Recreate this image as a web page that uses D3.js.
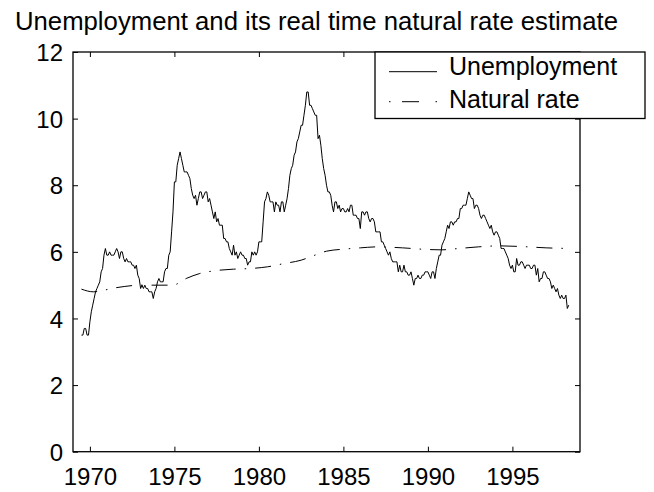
<!DOCTYPE html>
<html>
<head>
<meta charset="utf-8">
<script src="https://cdn.jsdelivr.net/npm/d3@7"></script>
<style>
  html, body { margin: 0; padding: 0; background: #fff; }
  svg { display: block; font-family: "Liberation Sans", Arial, sans-serif; }
</style>
</head>
<body>
<svg id="chart" width="654" height="492"></svg>
<script>
// ---- data ----
const titleText = "Unemployment and its real time natural rate estimate";
const seriesNames = ["Unemployment", "Natural rate"];
const xTicks = [1970, 1975, 1980, 1985, 1990, 1995];
const yTicks = [0, 2, 4, 6, 8, 10, 12];

// monthly unemployment rate, starting July 1969
const unempStart = 1969 + 6 / 12;
const unemployment = [
  3.5, 3.5, 3.7, 3.7, 3.5, 3.5,
  3.9, 4.2, 4.4, 4.6, 4.8, 4.9, 5.0, 5.1, 5.4, 5.5, 5.9, 6.1,
  5.9, 5.9, 6.0, 5.9, 5.9, 5.9, 6.0, 6.1, 6.0, 5.8, 6.0, 6.0,
  5.8, 5.7, 5.8, 5.7, 5.7, 5.7, 5.6, 5.6, 5.5, 5.6, 5.3, 5.2,
  4.9, 5.0, 4.9, 5.0, 4.9, 4.9, 4.8, 4.8, 4.8, 4.6, 4.8, 4.9,
  5.1, 5.2, 5.1, 5.1, 5.1, 5.4, 5.5, 5.5, 5.9, 6.0, 6.6, 7.2,
  8.1, 8.1, 8.6, 8.8, 9.0, 8.8, 8.6, 8.4, 8.4, 8.4, 8.3, 8.2,
  7.9, 7.7, 7.6, 7.7, 7.4, 7.6, 7.8, 7.8, 7.6, 7.7, 7.8, 7.8,
  7.5, 7.6, 7.4, 7.2, 7.0, 7.2, 6.9, 7.0, 6.8, 6.8, 6.8, 6.4,
  6.4, 6.3, 6.3, 6.1, 6.0, 5.9, 6.2, 5.9, 6.0, 5.8, 5.9, 6.0,
  5.9, 5.9, 5.8, 5.8, 5.6, 5.7, 5.7, 6.0, 5.9, 6.0, 5.9, 6.0,
  6.3, 6.3, 6.3, 6.9, 7.5, 7.6, 7.8, 7.7, 7.5, 7.5, 7.5, 7.2,
  7.5, 7.4, 7.4, 7.2, 7.5, 7.5, 7.2, 7.4, 7.6, 7.9, 8.3, 8.5,
  8.6, 8.9, 9.0, 9.3, 9.4, 9.6, 9.8, 9.8, 10.1, 10.4, 10.8, 10.8,
  10.4, 10.4, 10.3, 10.2, 10.1, 10.1, 9.4, 9.5, 9.2, 8.8, 8.5, 8.3,
  8.0, 7.8, 7.8, 7.7, 7.4, 7.2, 7.5, 7.5, 7.3, 7.4, 7.2, 7.3,
  7.3, 7.2, 7.2, 7.3, 7.2, 7.4, 7.4, 7.1, 7.1, 7.1, 7.0, 7.0,
  6.7, 7.2, 7.2, 7.1, 7.2, 7.2, 7.0, 6.9, 7.0, 7.0, 6.9, 6.6,
  6.6, 6.6, 6.6, 6.3, 6.3, 6.2, 6.1, 6.0, 5.9, 6.0, 5.8, 5.7,
  5.7, 5.7, 5.7, 5.4, 5.6, 5.4, 5.4, 5.6, 5.4, 5.4, 5.3, 5.3,
  5.4, 5.2, 5.0, 5.2, 5.2, 5.3, 5.2, 5.2, 5.3, 5.3, 5.4, 5.4,
  5.4, 5.3, 5.2, 5.4, 5.4, 5.2, 5.5, 5.7, 5.9, 5.9, 6.2, 6.3,
  6.4, 6.6, 6.8, 6.7, 6.9, 6.9, 6.8, 6.9, 6.9, 7.0, 7.0, 7.3,
  7.3, 7.4, 7.4, 7.4, 7.6, 7.8, 7.7, 7.6, 7.6, 7.3, 7.4, 7.4,
  7.3, 7.1, 7.0, 7.1, 7.1, 7.0, 6.9, 6.8, 6.7, 6.8, 6.6, 6.5,
  6.6, 6.6, 6.5, 6.4, 6.1, 6.1, 6.1, 6.0, 5.9, 5.8, 5.6, 5.5,
  5.6, 5.4, 5.4, 5.8, 5.6, 5.6, 5.7, 5.7, 5.6, 5.5, 5.6, 5.6,
  5.6, 5.5, 5.5, 5.6, 5.6, 5.3, 5.5, 5.1, 5.2, 5.2, 5.4, 5.4,
  5.3, 5.2, 5.2, 5.1, 4.9, 5.0, 4.9, 4.8, 4.9, 4.7, 4.6, 4.7,
  4.6, 4.6, 4.7, 4.3, 4.4
];

// natural rate estimate
const naturalYears = [1969.5, 1970.2, 1971.5, 1973.0, 1974.9, 1975.7, 1976.5, 1977.2, 1978.5, 1979.5,
  1980.5, 1981.5, 1982.5, 1983.2, 1984.0, 1985.0, 1986.0, 1987.0, 1988.5, 1990.0,
  1990.8, 1991.8, 1993.0, 1994.2, 1995.5, 1997.0, 1998.5];
const naturalRate = [4.88, 4.80, 4.92, 5.00, 5.00, 5.20, 5.35, 5.42, 5.48, 5.50,
  5.55, 5.65, 5.75, 5.88, 6.02, 6.08, 6.12, 6.15, 6.12, 6.07,
  6.06, 6.10, 6.15, 6.18, 6.16, 6.12, 6.10];

// ---- layout ----
const svg = d3.select("#chart");
const L = 73, R = 580, T = 52, B = 451.7;
const x = d3.scaleLinear().domain([1969, 1999]).range([L, R]);
const y = d3.scaleLinear().domain([0, 12]).range([B, T]);

const unempData = unemployment.map((v, i) => ({ t: unempStart + i / 12, v }));
const natData = naturalYears.map((t, i) => ({ t, v: naturalRate[i] }));

// title
svg.append("text")
  .attr("x", 15).attr("y", 30)
  .attr("font-size", 25)
  .attr("textLength", 603)
  .attr("lengthAdjust", "spacingAndGlyphs")
  .text(titleText);

const plot = svg.append("g");

// lines
const line = d3.line().x(d => x(d.t)).y(d => y(d.v));
plot.append("path")
  .datum(unempData)
  .attr("fill", "none").attr("stroke", "#000").attr("stroke-width", 1)
  .attr("d", line);

const natLine = d3.line().x(d => x(d.t)).y(d => y(d.v)).curve(d3.curveMonotoneX);
plot.append("path")
  .datum(natData)
  .attr("fill", "none").attr("stroke", "#000").attr("stroke-width", 1)
  .attr("stroke-dasharray", "16,9,1.5,9")
  .attr("d", natLine);

// axes (MATLAB-style box with inward ticks)
const tickLen = 5;
const axB = d3.axisBottom(x).tickValues(xTicks).tickFormat(d3.format("d")).tickSizeInner(-tickLen).tickSizeOuter(0).tickPadding(12);
const axT = d3.axisTop(x).tickValues(xTicks).tickFormat("").tickSizeInner(-tickLen).tickSizeOuter(0);
const axLft = d3.axisLeft(y).tickValues(yTicks).tickFormat(d3.format("d")).tickSizeInner(-tickLen).tickSizeOuter(0).tickPadding(10);
const axRgt = d3.axisRight(y).tickValues(yTicks).tickFormat("").tickSizeInner(-tickLen).tickSizeOuter(0);

function styleAxis(g) {
  g.select(".domain").remove();
  g.selectAll(".tick line").attr("stroke", "#000").attr("stroke-width", 1);
  g.selectAll("text").attr("font-size", 24).attr("fill", "#000")
    .attr("font-family", "'Liberation Sans', Arial, sans-serif");
}
const gB = svg.append("g").attr("transform", `translate(0,${B})`).call(axB).call(styleAxis);
gB.selectAll("text").attr("dy", null).attr("y", 485 - B).attr("dominant-baseline", "alphabetic");
svg.append("g").attr("transform", `translate(0,${T})`).call(axT).call(styleAxis);
const gL = svg.append("g").attr("transform", `translate(${L},0)`).call(axLft).call(styleAxis);
gL.selectAll("text").attr("dy", "0.36em");
svg.append("g").attr("transform", `translate(${R},0)`).call(axRgt).call(styleAxis);

// frame
svg.append("rect")
  .attr("x", L).attr("y", T).attr("width", R - L).attr("height", B - T)
  .attr("fill", "none").attr("stroke", "#000").attr("stroke-width", 1.3);

// legend
const lg = svg.append("g");
lg.append("rect")
  .attr("x", 375).attr("y", 52).attr("width", 270).attr("height", 66.5)
  .attr("fill", "#fff").attr("stroke", "#000").attr("stroke-width", 1.3);
const legendRows = [
  { name: seriesNames[0], dash: null, ly: 71.7, ty: 75 },
  { name: seriesNames[1], dash: "1.5,11.5,17,16.5,1.5", ly: 101.7, ty: 108.3 }
];
legendRows.forEach(r => {
  lg.append("line")
    .attr("x1", 389).attr("x2", 437).attr("y1", r.ly).attr("y2", r.ly)
    .attr("stroke", "#000").attr("stroke-width", 1)
    .attr("stroke-dasharray", r.dash);
  lg.append("text")
    .attr("x", 449).attr("y", r.ty)
    .attr("font-size", 25)
    .text(r.name);
});
</script>
</body>
</html>
